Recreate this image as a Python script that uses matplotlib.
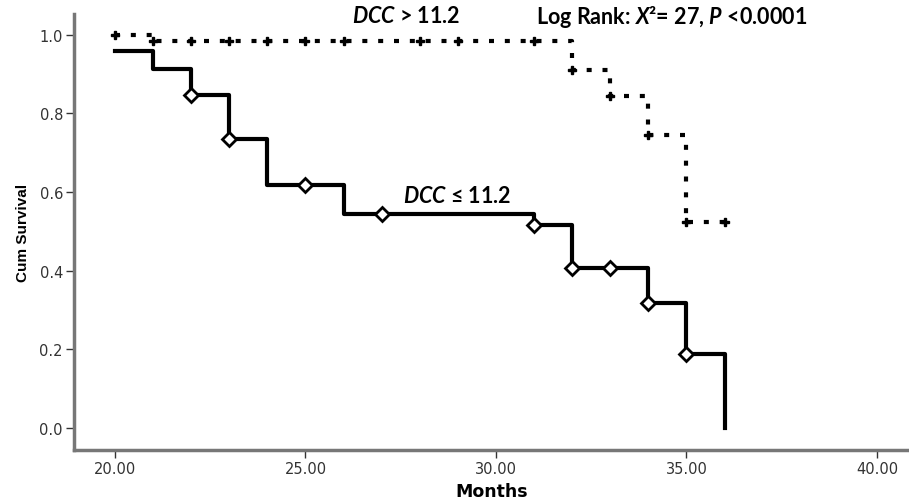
"""Kaplan-Meier survival curves by DCC group (step plot with censor marks)."""
import numpy as np
import matplotlib

matplotlib.use("Agg")
import matplotlib.pyplot as plt

plt.rcParams.update({
    "font.family": "sans-serif",
    "font.sans-serif": ["Lato", "DejaVu Sans"],
    "mathtext.fontset": "custom",
    "mathtext.rm": "Lato:bold",
    "mathtext.it": "Lato:italic:bold",
    "mathtext.bf": "Lato:bold",
})

# DCC <= 11.2 (solid)
low_times = [20, 21, 22, 23, 24, 26, 31, 32, 34, 35, 36]
low_surv = [0.958, 0.912, 0.846, 0.734, 0.617, 0.544, 0.516, 0.407, 0.318, 0.188, 0.0]
low_censor = [22, 23, 25, 27, 31, 32, 33, 34, 35]

# DCC > 11.2 (dotted)
high_times = [20, 21, 32, 33, 34, 35, 36]
high_surv = [1.0, 0.984, 0.91, 0.844, 0.745, 0.523, 0.523]
high_censor = [20, 21, 22, 23, 24, 25, 26, 28, 29, 31, 32, 33, 34, 35, 36]

x_ticks = [20, 25, 30, 35, 40]
y_ticks = [0.0, 0.2, 0.4, 0.6, 0.8, 1.0]


def at(times, surv, t):
    idx = np.searchsorted(times, t, side="right") - 1
    return np.asarray(surv)[idx]


fig = plt.figure(figsize=(9.09, 5.02), dpi=100)
ax = fig.add_axes([0.0814, 0.1016, 0.9186, 0.868])

ax.step(low_times, low_surv, where="post", color="black", lw=3, zorder=2)
ax.plot(low_censor, at(low_times, low_surv, low_censor), "D", ms=7,
        mfc="white", mec="black", mew=2, zorder=3)

ax.step(high_times, high_surv, where="post", color="black", lw=3,
        dashes=(1.2, 2.6), zorder=2)
ax.plot(high_censor, at(high_times, high_surv, high_censor), "P", ms=5.5,
        color="black", zorder=3)

ax.set_xlim(18.924, 40.84)
ax.set_ylim(-0.056, 1.052)
ax.set_xticks(x_ticks)
ax.set_xticklabels([f"{v:.2f}" for v in x_ticks])
ax.set_yticks(y_ticks)
ax.set_yticklabels([f"{v:.1f}" for v in y_ticks])

for side in ("top", "right"):
    ax.spines[side].set_visible(False)
for side in ("left", "bottom"):
    ax.spines[side].set_color("#777777")
    ax.spines[side].set_linewidth(2.5)

ax.tick_params(direction="out", length=6, width=1, color="#333333",
               labelcolor="#333333", labelsize=10.5, pad=2)
for lab in ax.get_xticklabels() + ax.get_yticklabels():
    lab.set_family("DejaVu Sans")

ax.set_xlabel("Months", fontfamily="DejaVu Sans", fontweight="bold",
              fontsize=12.5, labelpad=4)
ax.set_ylabel("Cum Survival", fontfamily="Liberation Sans", fontweight="bold",
              fontsize=11, labelpad=7)

ax.text(26.22, 1.048, r"$DCC$ > 11.2", fontsize=15.5, fontweight="bold",
        va="center", ha="left")
ax.text(31.05, 1.048, r"Log Rank: $X$²= 27, $P$ <0.0001", fontsize=15.5,
        fontweight="bold", va="center", ha="left")
ax.text(27.56, 0.592, r"$DCC$ ≤ 11.2", fontsize=15.5, fontweight="bold",
        va="center", ha="left")

fig.savefig("out.png", dpi=100)
